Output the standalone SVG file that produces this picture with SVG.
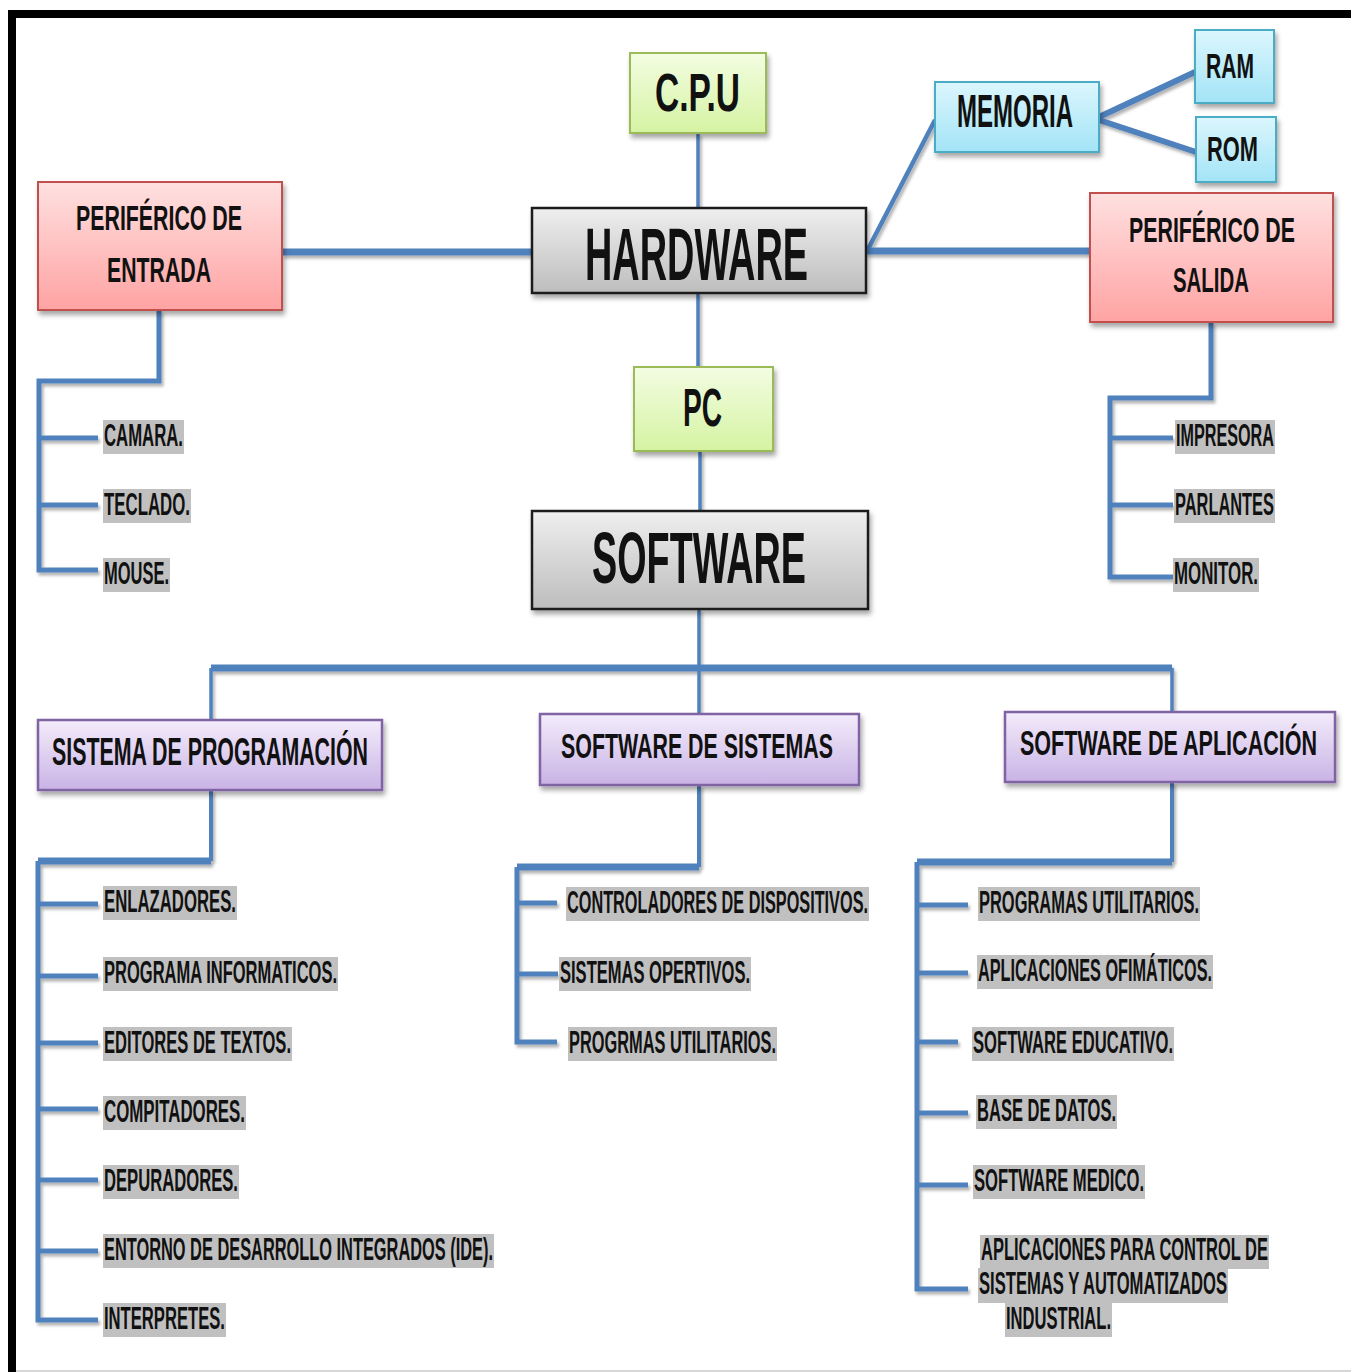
<svg xmlns="http://www.w3.org/2000/svg" width="1351" height="1372" viewBox="0 0 1351 1372">
<defs>
<linearGradient id="gGreen" x1="0" y1="0" x2="0" y2="1"><stop offset="0" stop-color="#f3fde2"/><stop offset="1" stop-color="#d5f3a2"/></linearGradient>
<linearGradient id="gGray" x1="0" y1="0" x2="0" y2="1"><stop offset="0" stop-color="#efefef"/><stop offset="1" stop-color="#bdbdbd"/></linearGradient>
<linearGradient id="gCyan" x1="0" y1="0" x2="0" y2="1"><stop offset="0" stop-color="#dcf6fd"/><stop offset="1" stop-color="#a3e4f7"/></linearGradient>
<linearGradient id="gRed" x1="0" y1="0" x2="0" y2="1"><stop offset="0" stop-color="#ffe0e0"/><stop offset="1" stop-color="#ffa3a3"/></linearGradient>
<linearGradient id="gPurple" x1="0" y1="0" x2="0" y2="1"><stop offset="0" stop-color="#f3ecfb"/><stop offset="1" stop-color="#c9b3e5"/></linearGradient>
<filter id="sh" x="-10%" y="-10%" width="130%" height="140%"><feDropShadow dx="2" dy="4" stdDeviation="2.5" flood-color="#000" flood-opacity="0.35"/></filter>
<filter id="lsh" x="-5%" y="-5%" width="110%" height="110%"><feDropShadow dx="2" dy="3" stdDeviation="1.5" flood-color="#000" flood-opacity="0.3"/></filter>
</defs>
<style>
text{font-family:"Liberation Sans",Arial,sans-serif;font-weight:bold;fill:#111}
.green{fill:url(#gGreen);stroke:#9bbb59;stroke-width:2}
.gray{fill:url(#gGray);stroke:#1a1a1a;stroke-width:2.5}
.cyan{fill:url(#gCyan);stroke:#4bacc6;stroke-width:2}
.red{fill:url(#gRed);stroke:#c0504d;stroke-width:2}
.purple{fill:url(#gPurple);stroke:#8064a2;stroke-width:2.5}
.box{filter:url(#sh)}
.c{fill:none;stroke:#4f81bd;stroke-linejoin:miter;stroke-linecap:butt}
.t1{stroke-width:3.5}
.t2{stroke-width:5}
.t3{stroke-width:7}
.hl{fill:#c0c0c0}
.it{font-size:16.5px}
</style>
<rect x="0" y="0" width="1351" height="1372" fill="#ffffff"/>
<path d="M12 1372 V14 H1351" fill="none" stroke="#000" stroke-width="8"/>
<line x1="16" y1="1371" x2="1351" y2="1371" stroke="#c8c8c8" stroke-width="1.5"/>

<g id="connectors" filter="url(#lsh)">
<path class="c t1" d="M698 133 V208"/>
<path class="c t1" d="M698 293 V367"/>
<path class="c t1" d="M700 451 V511"/>
<path class="c t3" d="M282 252 H532"/>
<path class="c t3" d="M866 251 H1090"/>
<path class="c" stroke-width="4.5" d="M866 253 L935 120"/>
<path class="c" stroke-width="6" d="M1099 117 L1195 72"/>
<path class="c" stroke-width="6" d="M1099 120 L1196 152"/>
<path class="c t2" d="M159 310 V381 H39 V570 H98"/>
<path class="c t2" d="M39 438 H98 M39 505 H98"/>
<path class="c t2" d="M1211 322 V398 H1110 V577 H1173"/>
<path class="c t2" d="M1110 438 H1173 M1110 505 H1173"/>
<path class="c t1" d="M699 609 V668"/>
<path class="c t3" d="M211 668 H1172"/>
<path class="c t1" d="M211 668 V720 M699 668 V714 M1172 668 V712"/>
<path class="c" stroke-width="4" d="M211 790 V861"/>
<path class="c t3" d="M211 861 H38"/>
<path class="c t2" d="M38 861 V1320 H98"/>
<path class="c t2" d="M38 904 H98 M38 976 H98 M38 1043 H98 M38 1109 H98 M38 1180 H98 M38 1251 H98"/>
<path class="c" stroke-width="4" d="M699 785 V867"/>
<path class="c t3" d="M699 867 H517"/>
<path class="c t2" d="M517 867 V1042 H557"/>
<path class="c t2" d="M517 903 H557 M517 974 H558"/>
<path class="c" stroke-width="4" d="M1172 782 V862"/>
<path class="c t3" d="M1172 862 H917"/>
<path class="c t2" d="M917 862 V1289 H968"/>
<path class="c t2" d="M917 905 H968 M917 973 H968 M917 1042 H958 M917 1113 H968 M917 1185 H968"/>
</g>

<g id="cpu"><rect class="green box" x="630" y="53" width="136" height="80"/><text transform="translate(655 111) scale(1 1.69)" font-size="31.9" textLength="85" lengthAdjust="spacingAndGlyphs">C.P.U</text></g>
<g id="hardware"><rect class="gray box" x="532" y="208" width="334" height="85"/><text transform="translate(585 280) scale(1 1.97)" font-size="37.5" textLength="223" lengthAdjust="spacingAndGlyphs">HARDWARE</text></g>
<g id="pc"><rect class="green box" x="634" y="367" width="139" height="84"/><text transform="translate(683 426) scale(1 1.92)" font-size="28.1" textLength="39" lengthAdjust="spacingAndGlyphs">PC</text></g>
<g id="software"><rect class="gray box" x="532" y="511" width="336" height="98"/><text transform="translate(592 583) scale(1 1.925)" font-size="37.4" textLength="214" lengthAdjust="spacingAndGlyphs">SOFTWARE</text></g>
<g id="memoria"><rect class="cyan box" x="935" y="82" width="164" height="70"/><text transform="translate(957 127) scale(1 1.917)" font-size="24" textLength="116" lengthAdjust="spacingAndGlyphs">MEMORIA</text></g>
<g id="ram"><rect class="cyan box" x="1195" y="30" width="79" height="73"/><text transform="translate(1206 78) scale(1 1.66)" font-size="21.1" textLength="48" lengthAdjust="spacingAndGlyphs">RAM</text></g>
<g id="rom"><rect class="cyan box" x="1196" y="117" width="80" height="65"/><text transform="translate(1207 161) scale(1 1.64)" font-size="21.9" textLength="51" lengthAdjust="spacingAndGlyphs">ROM</text></g>
<g id="periferico-entrada"><rect class="red box" x="38" y="182" width="244" height="128"/>
<text transform="translate(76 230) scale(1 1.69)" font-size="21.3" textLength="166" lengthAdjust="spacingAndGlyphs">PERIFÉRICO DE</text>
<text transform="translate(107 282) scale(1 1.69)" font-size="21.3" textLength="104" lengthAdjust="spacingAndGlyphs">ENTRADA</text></g>
<g id="periferico-salida"><rect class="red box" x="1090" y="193" width="243" height="129"/>
<text transform="translate(1129 242) scale(1 1.69)" font-size="21.3" textLength="166" lengthAdjust="spacingAndGlyphs">PERIFÉRICO DE</text>
<text transform="translate(1173 292) scale(1 1.76)" font-size="20.4" textLength="76" lengthAdjust="spacingAndGlyphs">SALIDA</text></g>
<g id="sistema-programacion"><rect class="purple box" x="38" y="720" width="344" height="70"/><text transform="translate(52 765) scale(1 1.83)" font-size="21.3" textLength="316" lengthAdjust="spacingAndGlyphs">SISTEMA DE PROGRAMACIÓN</text></g>
<g id="software-sistemas"><rect class="purple box" x="540" y="714" width="319" height="71"/><text transform="translate(561 758) scale(1 1.64)" font-size="21.3" textLength="272" lengthAdjust="spacingAndGlyphs">SOFTWARE DE SISTEMAS</text></g>
<g id="software-aplicacion"><rect class="purple box" x="1005" y="712" width="330" height="70"/><text transform="translate(1020 755) scale(1 1.64)" font-size="21.4" textLength="297" lengthAdjust="spacingAndGlyphs">SOFTWARE DE APLICACIÓN</text></g>

<g id="items-entrada">
<rect class="hl" x="103" y="420" width="81" height="34"/><text class="it" transform="translate(104 446) scale(1 1.94)" textLength="79" lengthAdjust="spacingAndGlyphs">CAMARA.</text>
<rect class="hl" x="103" y="489" width="88" height="34"/><text class="it" transform="translate(104 515) scale(1 1.94)" textLength="86" lengthAdjust="spacingAndGlyphs">TECLADO.</text>
<rect class="hl" x="103" y="558" width="67" height="34"/><text class="it" transform="translate(104 584) scale(1 1.94)" textLength="65" lengthAdjust="spacingAndGlyphs">MOUSE.</text>
</g>
<g id="items-salida">
<rect class="hl" x="1175" y="420" width="100" height="34"/><text class="it" transform="translate(1176 446) scale(1 1.94)" textLength="98" lengthAdjust="spacingAndGlyphs">IMPRESORA</text>
<rect class="hl" x="1174" y="489" width="101" height="34"/><text class="it" transform="translate(1175 515) scale(1 1.94)" textLength="99" lengthAdjust="spacingAndGlyphs">PARLANTES</text>
<rect class="hl" x="1173" y="558" width="86" height="34"/><text class="it" transform="translate(1174 584) scale(1 1.94)" textLength="84" lengthAdjust="spacingAndGlyphs">MONITOR.</text>
</g>
<g id="items-programacion">
<rect class="hl" x="103" y="886" width="134" height="34"/><text class="it" transform="translate(104 912) scale(1 1.94)" textLength="132" lengthAdjust="spacingAndGlyphs">ENLAZADORES.</text>
<rect class="hl" x="103" y="957" width="235" height="34"/><text class="it" transform="translate(104 983) scale(1 1.94)" textLength="233" lengthAdjust="spacingAndGlyphs">PROGRAMA INFORMATICOS.</text>
<rect class="hl" x="103" y="1027" width="189" height="34"/><text class="it" transform="translate(104 1053) scale(1 1.94)" textLength="187" lengthAdjust="spacingAndGlyphs">EDITORES DE TEXTOS.</text>
<rect class="hl" x="103" y="1096" width="143" height="34"/><text class="it" transform="translate(104 1122) scale(1 1.94)" textLength="141" lengthAdjust="spacingAndGlyphs">COMPITADORES.</text>
<rect class="hl" x="103" y="1165" width="136" height="34"/><text class="it" transform="translate(104 1191) scale(1 1.94)" textLength="134" lengthAdjust="spacingAndGlyphs">DEPURADORES.</text>
<rect class="hl" x="103" y="1234" width="391" height="34"/><text class="it" transform="translate(104 1260) scale(1 1.94)" textLength="389" lengthAdjust="spacingAndGlyphs">ENTORNO DE DESARROLLO INTEGRADOS (IDE).</text>
<rect class="hl" x="103" y="1303" width="123" height="34"/><text class="it" transform="translate(104 1329) scale(1 1.94)" textLength="121" lengthAdjust="spacingAndGlyphs">INTERPRETES.</text>
</g>
<g id="items-sistemas">
<rect class="hl" x="566" y="887" width="303" height="34"/><text class="it" transform="translate(567 913) scale(1 1.94)" textLength="301" lengthAdjust="spacingAndGlyphs">CONTROLADORES DE DISPOSITIVOS.</text>
<rect class="hl" x="559" y="957" width="192" height="34"/><text class="it" transform="translate(560 983) scale(1 1.94)" textLength="190" lengthAdjust="spacingAndGlyphs">SISTEMAS OPERTIVOS.</text>
<rect class="hl" x="568" y="1027" width="209" height="34"/><text class="it" transform="translate(569 1053) scale(1 1.94)" textLength="207" lengthAdjust="spacingAndGlyphs">PROGRMAS UTILITARIOS.</text>
</g>
<g id="items-aplicacion">
<rect class="hl" x="978" y="887" width="222" height="34"/><text class="it" transform="translate(979 913) scale(1 1.94)" textLength="220" lengthAdjust="spacingAndGlyphs">PROGRAMAS UTILITARIOS.</text>
<rect class="hl" x="977" y="955" width="236" height="34"/><text class="it" transform="translate(978 981) scale(1 1.94)" textLength="234" lengthAdjust="spacingAndGlyphs">APLICACIONES OFIMÁTICOS.</text>
<rect class="hl" x="972" y="1027" width="202" height="34"/><text class="it" transform="translate(973 1053) scale(1 1.94)" textLength="200" lengthAdjust="spacingAndGlyphs">SOFTWARE EDUCATIVO.</text>
<rect class="hl" x="976" y="1095" width="141" height="34"/><text class="it" transform="translate(977 1121) scale(1 1.94)" textLength="139" lengthAdjust="spacingAndGlyphs">BASE DE DATOS.</text>
<rect class="hl" x="973" y="1165" width="172" height="34"/><text class="it" transform="translate(974 1191) scale(1 1.94)" textLength="170" lengthAdjust="spacingAndGlyphs">SOFTWARE MEDICO.</text>
<rect class="hl" x="980" y="1235" width="289" height="34"/>
<rect class="hl" x="978" y="1268" width="250" height="35"/>
<rect class="hl" x="1005" y="1303" width="107" height="34"/>
<text class="it" transform="translate(981 1260) scale(1 1.94)" textLength="287" lengthAdjust="spacingAndGlyphs">APLICACIONES PARA CONTROL DE</text>
<text class="it" transform="translate(979 1294) scale(1 1.94)" textLength="248" lengthAdjust="spacingAndGlyphs">SISTEMAS Y AUTOMATIZADOS</text>
<text class="it" transform="translate(1006 1329) scale(1 1.94)" textLength="105" lengthAdjust="spacingAndGlyphs">INDUSTRIAL.</text>
</g>
</svg>
